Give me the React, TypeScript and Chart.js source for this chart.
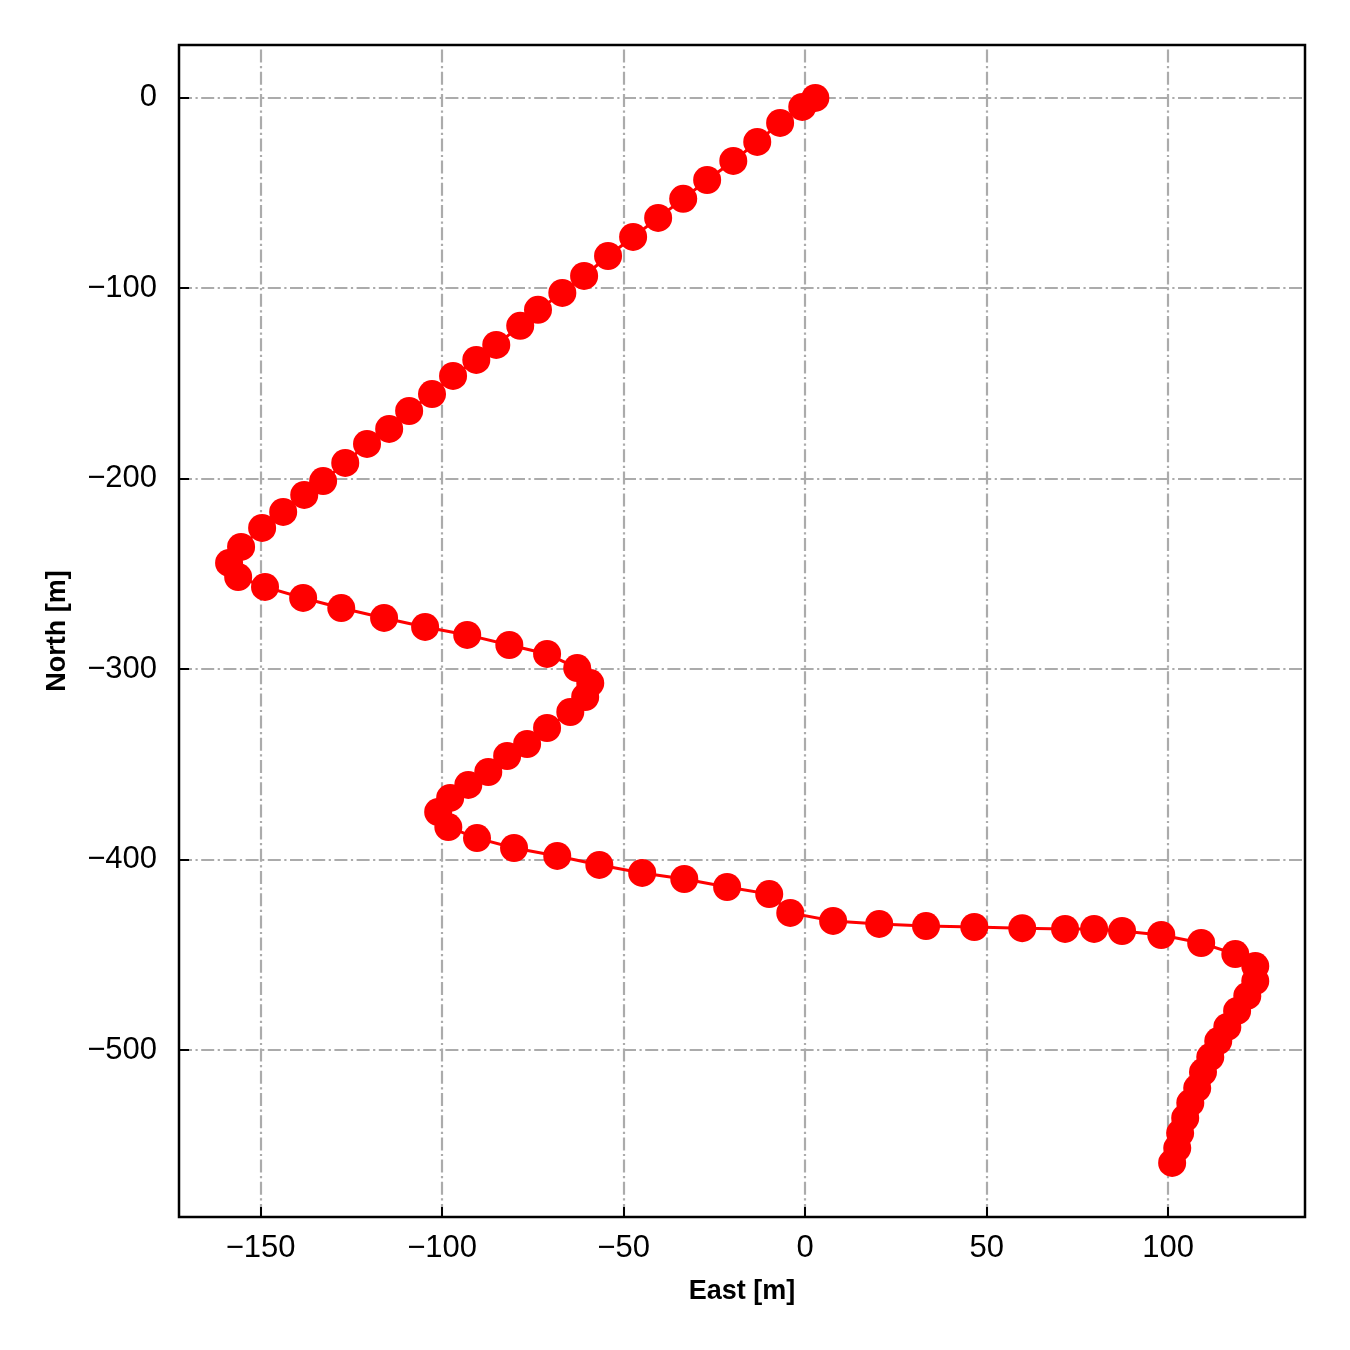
import React, { useEffect, useRef } from "react";
import { Chart, registerables } from "chart.js";

Chart.register(...registerables);

const EAST: number[] = [
  2.8, -0.8, -6.9, -13.2, -19.8, -27.0, -33.6, -40.5, -47.4, -54.3,
  -60.9, -66.9, -73.6, -78.5, -85.1, -90.6, -97.0, -102.8, -109.1, -114.6,
  -120.7, -126.7, -132.8, -138.0, -143.8, -149.6, -155.4, -158.7, -156.2, -148.8,
  -138.3, -127.8, -116.0, -104.7, -93.1, -81.5, -71.1, -62.8, -59.2, -60.6,
  -64.7, -71.1, -76.6, -82.1, -87.3, -92.8, -97.8, -101.1, -98.3, -90.4,
  -80.2, -68.3, -56.7, -44.9, -33.3, -21.5, -9.9, -4.1, 7.7, 20.4,
  33.3, 46.6, 59.8, 71.6, 79.6, 87.3, 98.1, 109.1, 118.5, 124.0,
  124.0, 121.8, 119.0, 116.3, 113.8, 111.6, 109.6, 108.0, 106.1, 104.7,
  103.3, 102.5, 101.1,
];

const NORTH: number[] = [
  0.0, -4.7, -13.1, -23.1, -33.1, -43.1, -53.0, -63.0, -73.0, -83.0,
  -93.5, -102.4, -111.3, -119.7, -129.7, -137.6, -146.0, -155.5, -164.4, -173.8,
  -181.7, -191.7, -201.2, -208.5, -217.4, -225.8, -235.8, -244.2, -251.6, -256.8,
  -262.6, -267.9, -273.1, -277.8, -282.0, -287.3, -292.0, -299.4, -307.3, -314.6,
  -322.5, -330.9, -339.3, -345.6, -354.0, -360.8, -367.6, -375.0, -382.9, -388.7,
  -393.9, -398.1, -402.8, -407.0, -410.2, -414.4, -418.1, -428.0, -432.2, -433.8,
  -434.9, -435.4, -436.0, -436.4, -436.4, -437.5, -439.6, -443.8, -449.6, -455.9,
  -463.8, -471.6, -479.5, -487.9, -495.3, -503.7, -511.6, -520.0, -527.8, -535.7,
  -543.6, -551.5, -559.3,
];

const X_TICKS: number[] = [-150, -100, -50, 0, 50, 100];
const Y_TICKS: number[] = [0, -100, -200, -300, -400, -500];
const X_RANGE: number[] = [-172.5, 137.7];
const Y_RANGE: number[] = [-587.7, 27.8];
const X_TITLE = "East [m]";
const Y_TITLE = "North [m]";

const FONT = "'Liberation Sans', Arial, Helvetica, sans-serif";

const fmt = (v: number) => (v < 0 ? "\u2212" + Math.abs(v) : String(v));

const framePlugin = {
  id: "mplFrame",
  beforeDatasetsDraw(chart: any) {
    const { ctx, chartArea: a, scales } = chart;
    const x = scales.x;
    const y = scales.y;
    ctx.save();
    ctx.beginPath();
    ctx.rect(a.left, a.top, a.right - a.left, a.bottom - a.top);
    ctx.clip();
    ctx.strokeStyle = "#ababab";
    ctx.lineWidth = 2.2;
    ctx.setLineDash([13, 3.5, 2.2, 3.5]);
    for (const v of X_TICKS) {
      const px = Math.round(x.getPixelForValue(v));
      ctx.beginPath();
      ctx.moveTo(px, a.bottom);
      ctx.lineTo(px, a.top);
      ctx.stroke();
    }
    for (const v of Y_TICKS) {
      const py = Math.round(y.getPixelForValue(v));
      ctx.beginPath();
      ctx.moveTo(a.left, py);
      ctx.lineTo(a.right, py);
      ctx.stroke();
    }
    ctx.restore();
  },
  afterDatasetsDraw(chart: any) {
    const { ctx, chartArea: a, scales } = chart;
    const x = scales.x;
    const y = scales.y;
    ctx.save();
    ctx.strokeStyle = "#000";
    ctx.lineWidth = 2;
    const tl = 10;
    for (const v of X_TICKS) {
      const px = Math.round(x.getPixelForValue(v));
      ctx.beginPath();
      ctx.moveTo(px, a.bottom);
      ctx.lineTo(px, a.bottom - tl);
      ctx.stroke();
    }
    for (const v of Y_TICKS) {
      const py = Math.round(y.getPixelForValue(v));
      ctx.beginPath();
      ctx.moveTo(a.left, py);
      ctx.lineTo(a.left + tl, py);
      ctx.stroke();
    }
    ctx.lineWidth = 2.5;
    ctx.strokeRect(a.left, a.top, a.right - a.left, a.bottom - a.top);
    ctx.restore();
  },
};

export default function App() {
  const ref = useRef<HTMLCanvasElement | null>(null);

  useEffect(() => {
    if (!ref.current) return;
    const data = EAST.map((e, i) => ({ x: e, y: NORTH[i] }));
    const chart = new Chart(ref.current, {
      type: "line",
      data: {
        datasets: [
          {
            data,
            borderColor: "#ff0000",
            backgroundColor: "#ff0000",
            borderWidth: 3,
            pointRadius: 14,
            pointHoverRadius: 14,
            pointBorderWidth: 0,
            pointBackgroundColor: "#ff0000",
            tension: 0,
            fill: false,
          },
        ],
      },
      options: {
        responsive: false,
        animation: false,
        events: [],
        parsing: false as any,
        layout: { padding: { top: 45, right: 45, left: 0, bottom: 0 } },
        plugins: {
          legend: { display: false },
          tooltip: { enabled: false },
        },
        scales: {
          x: {
            type: "linear",
            min: X_RANGE[0],
            max: X_RANGE[1],
            grid: { display: false },
            border: { display: false },
            afterBuildTicks: (s: any) => {
              s.ticks = X_TICKS.map((v) => ({ value: v }));
            },
            afterFit: (s: any) => {
              s.height = 133;
            },
            ticks: {
              autoSkip: false,
              maxRotation: 0,
              padding: 5,
              color: "#000",
              font: { family: FONT, size: 31 },
              callback: (v: any) => fmt(Number(v)),
            },
            title: {
              display: true,
              text: X_TITLE,
              color: "#000",
              font: { family: FONT, size: 27, weight: "bold" },
              padding: { top: 0, bottom: 42 },
            },
          },
          y: {
            type: "linear",
            min: Y_RANGE[0],
            max: Y_RANGE[1],
            grid: { display: false },
            border: { display: false },
            afterBuildTicks: (s: any) => {
              s.ticks = Y_TICKS.map((v) => ({ value: v }));
            },
            afterFit: (s: any) => {
              s.width = 179;
            },
            ticks: {
              autoSkip: false,
              padding: 14,
              color: "#000",
              font: { family: FONT, size: 31 },
              callback: (v: any) => fmt(Number(v)),
            },
            title: {
              display: true,
              text: Y_TITLE,
              color: "#000",
              font: { family: FONT, size: 27, weight: "bold" },
              padding: { top: 41, bottom: 0 },
            },
          },
        },
      },
      plugins: [framePlugin],
    });
    return () => chart.destroy();
  }, []);

  return (
    <div style={{ position: "fixed", left: 0, top: 0, width: 1350, height: 1350, background: "#fff" }}>
      <canvas ref={ref} width={1350} height={1350} style={{ display: "block" }} />
    </div>
  );
}
